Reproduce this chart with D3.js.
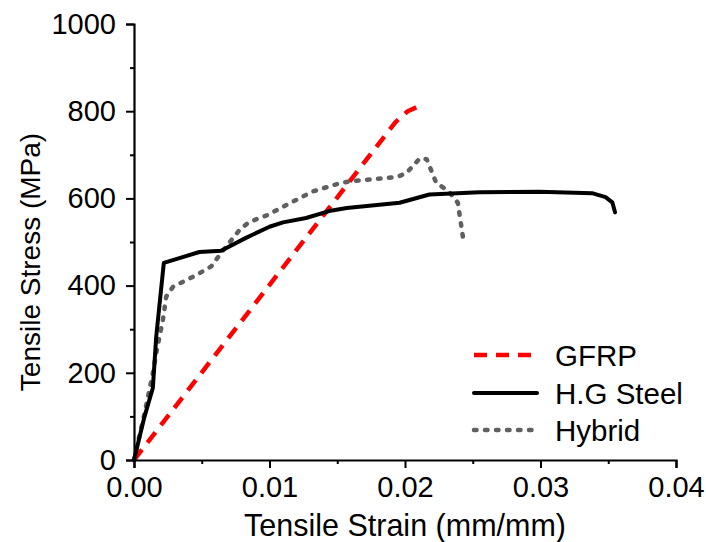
<!DOCTYPE html>
<html>
<head>
<meta charset="utf-8">
<script src="https://cdn.jsdelivr.net/npm/d3@7"></script>
<style>
	body { margin: 0; background: #fff; }
	svg { font-family: "Liberation Sans", Arial, sans-serif; }
</style>
</head>
<body>
<svg width="706" height="542"></svg>
<script>
// strain (mm/mm) , stress (MPa)
const gfrpStrain = [0, 0.0193, 0.0202, 0.0210];
const gfrpStress = [0, 775, 800, 811];

const steelStrain = [0, 0.00077, 0.00139, 0.00164, 0.0022, 0.00483, 0.00643, 0.0083, 0.0100, 0.0110, 0.0127, 0.0144, 0.0157, 0.0196, 0.0218, 0.0255, 0.0299, 0.0338, 0.0348, 0.0353, 0.0355];
const steelStress = [0, 99, 165, 283, 452, 477, 480, 510, 535, 545, 555, 571, 578, 590, 609, 614, 615, 612, 603, 591, 568];

const hybridStrain = [0, 0.0008, 0.0014, 0.00164, 0.00213, 0.00238, 0.00287, 0.00459, 0.0057, 0.00643, 0.0078, 0.0085, 0.0098, 0.0115, 0.0132, 0.0152, 0.0159, 0.0194, 0.0201, 0.0211, 0.0216, 0.0223, 0.0232, 0.0239, 0.0243, 0.0244];
const hybridStress = [0, 110, 200, 245, 321, 375, 397, 424, 444, 475, 528, 546, 561, 589, 616, 635, 639, 649, 658, 692, 690, 636, 617, 590, 506, 498];

const xTicks = [0, 0.01, 0.02, 0.03, 0.04];
const yTicks = [0, 200, 400, 600, 800, 1000];

const seriesNames = ["GFRP", "H.G Steel", "Hybrid"];

function loader() {
	const svg = d3.select('svg');

	const x = d3.scaleLinear().domain([0, 0.04]).range([134, 676]);
	const y = d3.scaleLinear().domain([0, 1000]).range([460, 24]);

	const styles = [
		{ color: '#ff0000', width: 4.5, dash: '13,9', cap: 'butt' },
		{ color: '#000000', width: 4, dash: null, cap: 'round' },
		{ color: '#606060', width: 4.5, dash: '2.5,8.5', cap: 'round' }
	];

	const series = [
		gfrpStrain.map((d, i) => [d, gfrpStress[i]]),
		steelStrain.map((d, i) => [d, steelStress[i]]),
		hybridStrain.map((d, i) => [d, hybridStress[i]])
	];

	const line = d3.line().x(d => x(d[0])).y(d => y(d[1]));

	// draw order red, gray, black
	[0, 2, 1].forEach(function (k) {
		svg.append('path')
			.attr('d', line(series[k]))
			.attr('fill', 'none')
			.attr('stroke', styles[k].color)
			.attr('stroke-width', styles[k].width)
			.attr('stroke-dasharray', styles[k].dash)
			.attr('stroke-linecap', styles[k].cap)
			.attr('stroke-linejoin', 'round');
	});

	// minor ticks first, then major axes on top
	const xMinor = d3.axisBottom(x).tickValues(d3.range(0.005, 0.04, 0.01)).tickSize(4).tickFormat('');
	const yMinor = d3.axisLeft(y).tickValues(d3.range(100, 1000, 200)).tickSize(4).tickFormat('');

	const xAxis = d3.axisBottom(x).tickValues(xTicks).tickSize(8).tickPadding(8).tickFormat(d3.format('.2f'));
	const yAxis = d3.axisLeft(y).tickValues(yTicks).tickSize(8).tickPadding(10).tickFormat(d3.format('d'));

	const gxm = svg.append('g').attr('transform', 'translate(0,460)').call(xMinor);
	const gym = svg.append('g').attr('transform', 'translate(134,0)').call(yMinor);
	const gx = svg.append('g').attr('transform', 'translate(0,460)').call(xAxis);
	const gy = svg.append('g').attr('transform', 'translate(134,0)').call(yAxis);

	[gxm, gym, gx, gy].forEach(function (g) {
		g.select('.domain').attr('stroke', '#000').attr('stroke-width', 2.2);
		g.selectAll('.tick line').attr('stroke', '#000').attr('stroke-width', 2);
		g.selectAll('.tick text').attr('fill', '#000').style('font-size', '29px')
			.style('font-family', '"Liberation Sans", Arial, sans-serif');
	});
	gym.select('.domain').remove();
	gxm.select('.domain').remove();

	svg.append('text')
		.attr('x', 405)
		.attr('y', 536)
		.attr('text-anchor', 'middle')
		.style('font-size', '30.5px')
		.text('Tensile Strain (mm/mm)');

	svg.append('text')
		.attr('transform', 'translate(40,262) rotate(-90)')
		.attr('text-anchor', 'middle')
		.style('font-size', '28px')
		.text('Tensile Stress (MPa)');

	// legend
	const legendY = [355, 393, 430];
	seriesNames.forEach(function (name, k) {
		svg.append('line')
			.attr('x1', 474).attr('x2', 537)
			.attr('y1', legendY[k]).attr('y2', legendY[k])
			.attr('stroke', styles[k].color)
			.attr('stroke-width', styles[k].width)
			.attr('stroke-dasharray', styles[k].dash)
			.attr('stroke-linecap', styles[k].cap);
		svg.append('text')
			.attr('x', 555)
			.attr('y', legendY[k])
			.attr('dy', '0.36em')
			.style('font-size', '29.5px')
			.text(name);
	});
}
window.addEventListener('load', loader);
</script>
</body>
</html>
